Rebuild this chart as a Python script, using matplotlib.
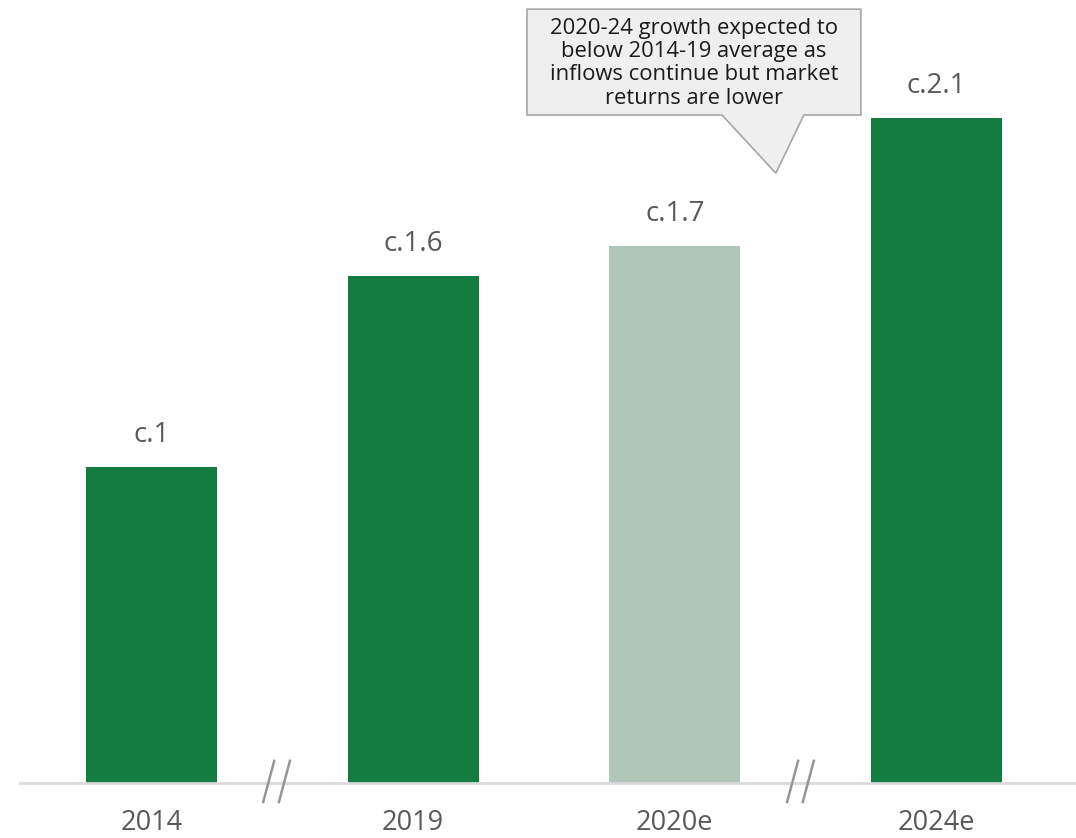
import matplotlib.pyplot as plt
from matplotlib.patches import Polygon
from matplotlib.lines import Line2D

plt.rcParams['font.family'] = ['Open Sans', 'DejaVu Sans']

years = ['2014', '2019', '2020e', '2024e']
values = [1.0, 1.605, 1.70, 2.105]
labels = ['c.1', 'c.1.6', 'c.1.7', 'c.2.1']
colors = ['#127c41', '#127c41', '#afc6b9', '#127c41']
note = ('2020-24 growth expected to\nbelow 2014-19 average as\n'
        'inflows continue but market\nreturns are lower')

W, H = 1076, 838
fig = plt.figure(figsize=(W / 100, H / 100), dpi=100)
ax = fig.add_axes([20 / W, (H - 783) / H, (W - 20) / W, 783 / H])

x = range(len(years))
ax.bar(x, values, width=0.5, color=colors, zorder=2)
for i, (v, lab) in enumerate(zip(values, labels)):
    ax.annotate(lab, (i, v), xytext=(0, 13), textcoords='offset points',
                ha='center', va='bottom', fontsize=20, color='#595959')

ax.set_xlim(-0.5025, 3.533)
ax.set_ylim(0, 2.478)
ax.set_xticks(list(x))
ax.set_xticklabels(years, fontsize=19.5, color='#595959')
ax.tick_params(axis='x', length=0, pad=19)
ax.set_yticks([])
for s in ['top', 'right', 'left']:
    ax.spines[s].set_visible(False)
ax.spines['bottom'].set_color('#d9d9d9')
ax.spines['bottom'].set_linewidth(2)

# axis break marks
for bx in [0.478, 2.48]:
    for dx in [-0.03, 0.03]:
        ax.add_line(Line2D([bx + dx - 0.021, bx + dx + 0.021], [-0.06, 0.07],
                           color='#959595', lw=1.8, clip_on=False, zorder=3))

# callout
callout = Polygon([(1.435, 2.449), (2.711, 2.449), (2.711, 2.114), (2.493, 2.114),
                   (2.386, 1.930), (2.180, 2.114), (1.435, 2.114)],
                  closed=True, facecolor='#efefef', edgecolor='#a6a6a6', lw=1.2,
                  clip_on=False, zorder=4)
ax.add_patch(callout)
ax.text(2.073, 2.278, note, ha='center', va='center', fontsize=15.8,
        color='#1a1a1a', linespacing=1.15, zorder=5)

fig.savefig('out.png', dpi=100)
